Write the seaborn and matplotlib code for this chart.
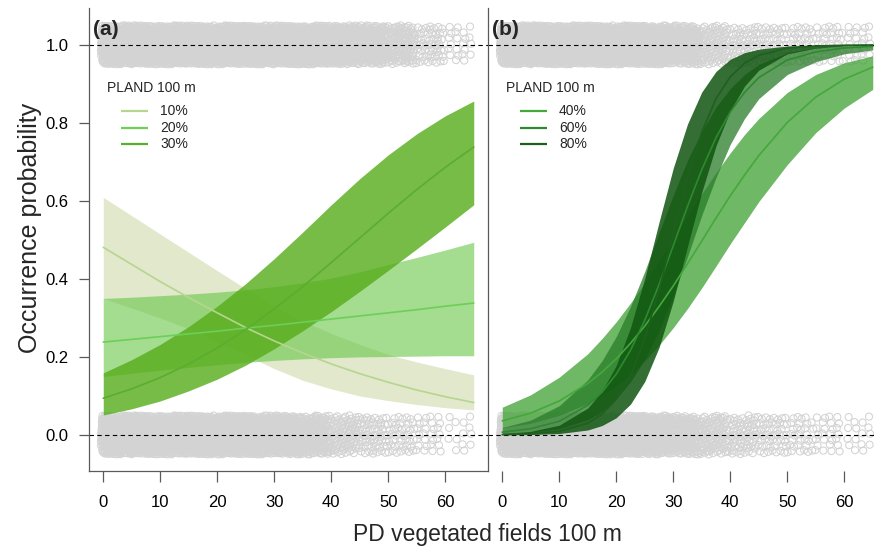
import numpy as np
import pandas as pd
import matplotlib
matplotlib.use("Agg")
import matplotlib.pyplot as plt
import seaborn as sns

# ---------------- data ----------------
# panel (a): PLAND 100 m = 10 %, 20 %, 30 %
xa = [0, 5, 10, 15, 20, 25, 30, 35, 40, 45, 50, 55, 60, 65]
a10_fit = [0.481, 0.437, 0.393, 0.352, 0.313, 0.275, 0.241, 0.210, 0.182, 0.157, 0.135, 0.115, 0.098, 0.083]
a10_lo = [0.350, 0.325, 0.300, 0.272, 0.240, 0.205, 0.170, 0.140, 0.118, 0.100, 0.088, 0.078, 0.070, 0.064]
a10_hi = [0.609, 0.562, 0.515, 0.468, 0.421, 0.375, 0.330, 0.292, 0.260, 0.232, 0.206, 0.187, 0.170, 0.154]
a20_fit = [0.238, 0.245, 0.252, 0.259, 0.266, 0.274, 0.281, 0.289, 0.297, 0.305, 0.313, 0.321, 0.330, 0.338]
a20_lo = [0.150, 0.158, 0.166, 0.173, 0.180, 0.186, 0.191, 0.195, 0.198, 0.200, 0.201, 0.202, 0.203, 0.203]
a20_hi = [0.350, 0.353, 0.357, 0.361, 0.366, 0.372, 0.380, 0.390, 0.402, 0.418, 0.437, 0.455, 0.474, 0.494]
a30_fit = [0.094, 0.118, 0.147, 0.182, 0.223, 0.270, 0.323, 0.380, 0.442, 0.505, 0.568, 0.629, 0.686, 0.738]
a30_lo = [0.051, 0.067, 0.087, 0.113, 0.143, 0.179, 0.221, 0.267, 0.316, 0.368, 0.422, 0.477, 0.533, 0.590]
a30_hi = [0.159, 0.193, 0.232, 0.278, 0.330, 0.388, 0.452, 0.520, 0.590, 0.657, 0.718, 0.772, 0.818, 0.856]

# panel (b): PLAND 100 m = 40 %, 60 %, 80 %
xb = [0, 5, 10, 15, 17.5, 20, 22.5, 25, 27.5, 30, 32.5, 35, 37.5, 40, 42.5, 45, 50, 55, 60, 65]
b40_fit = [0.036, 0.056, 0.087, 0.132, 0.161, 0.195, 0.235, 0.279, 0.329, 0.382, 0.439, 0.497, 0.556, 0.613, 0.666, 0.716, 0.801, 0.866, 0.912, 0.943]
b40_lo = [0.018, 0.030, 0.050, 0.080, 0.101, 0.126, 0.155, 0.190, 0.230, 0.275, 0.324, 0.377, 0.433, 0.490, 0.544, 0.598, 0.693, 0.775, 0.838, 0.886]
b40_hi = [0.071, 0.103, 0.148, 0.208, 0.247, 0.290, 0.338, 0.390, 0.446, 0.503, 0.561, 0.618, 0.672, 0.723, 0.770, 0.811, 0.878, 0.924, 0.954, 0.972]
b60_fit = [0.007, 0.016, 0.035, 0.076, 0.109, 0.156, 0.217, 0.294, 0.385, 0.485, 0.586, 0.680, 0.762, 0.828, 0.878, 0.916, 0.961, 0.982, 0.992, 0.9965]
b60_lo = [0.0026, 0.0065, 0.016, 0.039, 0.060, 0.092, 0.136, 0.194, 0.267, 0.357, 0.457, 0.563, 0.660, 0.745, 0.811, 0.862, 0.924, 0.957, 0.977, 0.987]
b60_hi = [0.019, 0.038, 0.075, 0.141, 0.190, 0.252, 0.329, 0.419, 0.518, 0.615, 0.704, 0.778, 0.841, 0.888, 0.924, 0.950, 0.980, 0.993, 0.997, 0.999]
b80_fit = [0.0009, 0.0029, 0.0094, 0.030, 0.053, 0.091, 0.153, 0.246, 0.371, 0.515, 0.657, 0.776, 0.862, 0.918, 0.953, 0.973, 0.992, 0.997, 0.999, 0.9998]
b80_lo = [0.0002, 0.0009, 0.0035, 0.0126, 0.024, 0.044, 0.079, 0.137, 0.224, 0.343, 0.483, 0.622, 0.741, 0.831, 0.894, 0.935, 0.977, 0.9915, 0.997, 0.9989]
b80_hi = [0.0033, 0.0091, 0.025, 0.069, 0.112, 0.178, 0.275, 0.401, 0.545, 0.684, 0.797, 0.879, 0.932, 0.963, 0.980, 0.989, 0.997, 0.9992, 0.9998, 1.0]

# raw observations (0 = absent, 1 = present): counts per 5-unit PD bin
obs_bins = [0, 5, 10, 15, 20, 25, 30, 35, 40, 45, 50, 55, 60]
pa_obs1 = [260, 260, 260, 260, 260, 260, 260, 250, 230, 180, 120, 55, 25]
pa_obs0 = [260, 260, 260, 260, 260, 250, 220, 160, 90, 60, 45, 28, 14]
pb_obs1 = [260, 260, 260, 260, 260, 240, 170, 90, 60, 48, 42, 36, 28]
pb_obs0 = [260, 260, 260, 260, 250, 210, 150, 100, 65, 48, 36, 26, 16]

levels_a = ["10%", "20%", "30%"]
levels_b = ["40%", "60%", "80%"]
xticks = [0, 10, 20, 30, 40, 50, 60]
yticks = [0.0, 0.2, 0.4, 0.6, 0.8, 1.0]
yticklabels = ["0.0", "0.2", "0.4", "0.6", "0.8", "1.0"]

# ---------------- style ----------------
sns.set_theme(style="white")
plt.rcParams["font.family"] = ["Liberation Sans", "DejaVu Sans"]

line_cols_a = ["#b7d58e", "#6ccf57", "#5aae2e"]
fill_cols_a = ["#cddaaa", "#67c646", "#56ac1a"]
fill_alpha_a = [0.6, 0.6, 0.8]
line_cols_b = ["#45a83c", "#2e8a2e", "#1f601f"]
fill_cols_b = ["#4aa640", "#297d29", "#105510"]
fill_alpha_b = [0.8, 0.75, 0.85]

W, H = 874, 546
fig = plt.figure(figsize=(W / 100, H / 100), dpi=100)
axa = fig.add_axes([89 / W, 75 / H, 399 / W, 463 / H])
axb = fig.add_axes([488 / W, 75 / H, 399 / W, 463 / H])

grey = "#d3d3d3"
spine_col = "#5a5a5a"


def jittered(counts, occ):
    xs, ys = [], []
    for k, (b, n) in enumerate(zip(obs_bins, counts)):
        i = np.arange(n)
        fx = (i * 0.7548776662 + 0.37 + 0.13 * k) % 1.0
        fy = (i * 0.5698402910 + 0.21 + 0.29 * k) % 1.0
        xs.append(b - 0.4 + 5.0 * fx)
        ys.append(occ + 0.1 * (fy - 0.5))
    return np.concatenate(xs), np.concatenate(ys)


def draw_obs(ax, c0, c1):
    x0, y0 = jittered(c0, 0)
    x1, y1 = jittered(c1, 1)
    df = pd.DataFrame({"pd": np.concatenate([x0, x1]), "occ": np.concatenate([y0, y1])})
    sns.scatterplot(data=df, x="pd", y="occ", ax=ax, marker="o", s=26,
                    fc="none", ec=grey, linewidth=0.75, legend=False, zorder=1)


def draw_band(ax, x, lo, hi, fcol, alpha):
    ax.fill_between(x, lo, hi, color=fcol, alpha=alpha, lw=0, zorder=3)


draw_obs(axa, pa_obs0, pa_obs1)
draw_obs(axb, pb_obs0, pb_obs1)

for ax in (axa, axb):
    for yv in (0, 1):
        ax.axhline(yv, color="black", lw=0.8, ls=(0, (4, 3)), zorder=2)

bands_a = [(a10_lo, a10_hi, a10_fit), (a20_lo, a20_hi, a20_fit), (a30_lo, a30_hi, a30_fit)]
for (lo, hi, fit), fc, al in zip(bands_a, fill_cols_a, fill_alpha_a):
    draw_band(axa, xa, lo, hi, fc, al)
for (lo, hi, fit), lc in zip(bands_a, line_cols_a):
    sns.lineplot(x=xa, y=fit, ax=axa, color=lc, lw=1.2, legend=False, zorder=4)

bands_b = [(b40_lo, b40_hi, b40_fit), (b60_lo, b60_hi, b60_fit), (b80_lo, b80_hi, b80_fit)]
for (lo, hi, fit), fc, al, lc in zip(bands_b, fill_cols_b, fill_alpha_b, line_cols_b):
    draw_band(axb, xb, lo, hi, fc, al)
    sns.lineplot(x=xb, y=fit, ax=axb, color=lc, lw=1.2, legend=False, zorder=4)

for ax in (axa, axb):
    ax.set_xlim(-2.5, 67.5)
    ax.set_ylim(-0.0925, 1.0945)
    ax.set_xlabel("")
    ax.set_ylabel("")
    ax.set_xticks(xticks)
    ax.set_xticklabels([str(t) for t in xticks])
    ax.tick_params(axis="x", bottom=True, length=8, width=0.9, color=spine_col,
                   pad=9, labelsize=12, labelcolor="black")
    for s in ("top", "right"):
        ax.spines[s].set_visible(False)
    ax.spines["left"].set_color(spine_col)
    ax.spines["left"].set_linewidth(0.9)
    ax.spines["bottom"].set_color(spine_col)
    ax.spines["bottom"].set_linewidth(0.9)

axb.spines["bottom"].set_visible(False)
axa.set_yticks(yticks)
axa.set_yticklabels(yticklabels)
axa.tick_params(axis="y", left=True, length=7.5, width=0.9, color=spine_col,
                pad=7, labelsize=12, labelcolor="black")
axb.set_yticks([])

# panel letters
axa.text(0.01, 0.975, "(a)", transform=axa.transAxes, ha="left", va="top",
         fontsize=15, fontweight="bold")
axb.text(0.01, 0.975, "(b)", transform=axb.transAxes, ha="left", va="top",
         fontsize=15, fontweight="bold")


def legend(ax, labels, cols):
    ax.text(0.0451, 0.827, "PLAND 100 m", transform=ax.transAxes, ha="left",
            va="center", fontsize=10)
    for k, (lab, c) in enumerate(zip(labels, cols)):
        yy = 0.777 - k * 0.0358
        ax.plot([0.0802, 0.1479], [yy, yy], transform=ax.transAxes, color=c, lw=1.6,
                solid_capstyle="butt", zorder=6)
        ax.text(0.178, yy, lab, transform=ax.transAxes, ha="left", va="center",
                fontsize=10)


legend(axa, levels_a, line_cols_a)
legend(axb, levels_b, line_cols_b)

fig.text(487.5 / W, 5 / H, "PD vegetated fields 100 m", ha="center", va="baseline",
         fontsize=16.5)
fig.text(30 / W, (H - 227.5) / H, "Occurrence probability", ha="center", va="center",
         rotation=90, fontsize=18)

fig.savefig("out.png", dpi=100)
